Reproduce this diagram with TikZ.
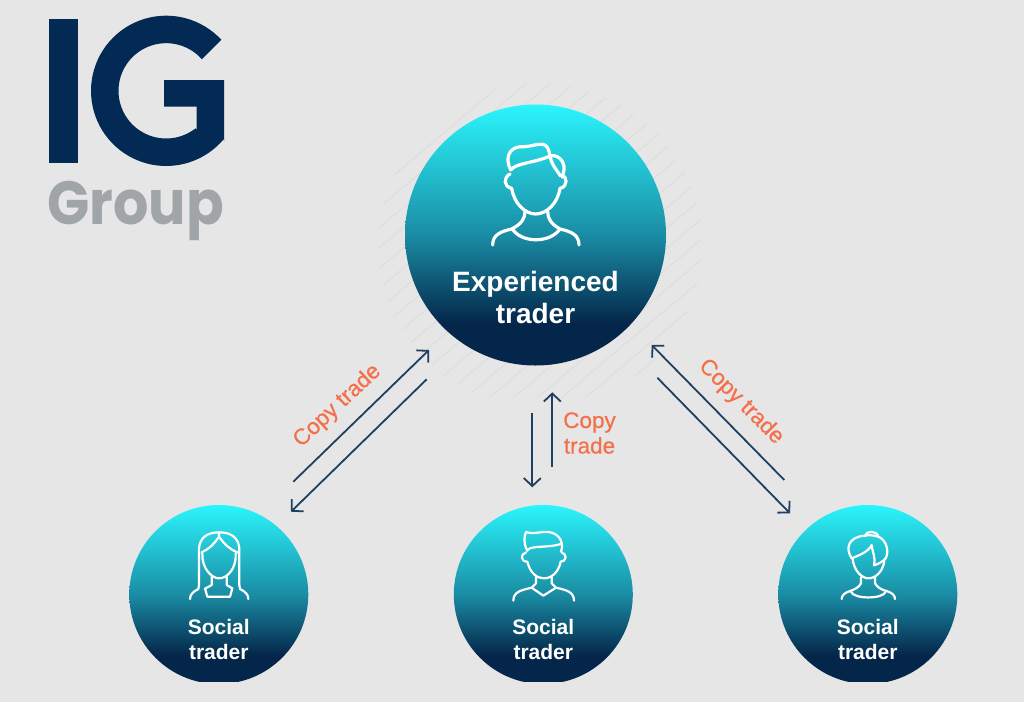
\documentclass[tikz,border=0pt]{standalone}
\usepackage{fontspec}
\setmainfont{Liberation Sans}
\newfontfamily\grpfont{Poppins}
\usetikzlibrary{arrows.meta}
\definecolor{bgc}{HTML}{E6E6E6}
\definecolor{hatchc}{HTML}{DCDCDC}
\definecolor{navy}{HTML}{022A55}
\definecolor{greyc}{HTML}{A0A5A8}
\definecolor{arrowc}{HTML}{1F3F63}
\definecolor{orangec}{HTML}{F4704A}
\definecolor{gt}{HTML}{2BF5FC}
\definecolor{gm}{HTML}{1A8CA4}
\definecolor{gb}{HTML}{04264A}
\pgfdeclareverticalshading{trader}{100bp}{color(0bp)=(gb); color(33bp)=(gb); color(50bp)=(gm); color(75bp)=(gt); color(100bp)=(gt)}
\tikzset{
  bigc/.style={circle,inner sep=0,outer sep=0,minimum size=261pt,shading=trader},
  smallc/.style={circle,inner sep=0,outer sep=0,minimum size=179pt,shading=trader},
  biglab/.style={text=white,font=\fontsize{28}{32}\selectfont\bfseries,align=center,inner sep=0},
  smalllab/.style={text=white,font=\fontsize{21}{25}\selectfont\bfseries,align=center,inner sep=0},
  copylab/.style={text=orangec,font=\fontsize{22.5}{25.5}\selectfont\addfontfeature{FakeBold=0.6},align=center,inner sep=0},
  conn/.style={draw=arrowc,line width=1.8pt,-{Straight Barb[length=8pt,width=17pt,line width=1.8pt]}},
  iconbig/.style={draw=white,line width=3.2pt,line cap=round,line join=round},
  iconsmall/.style={draw=white,line width=2.2pt,line cap=round,line join=round},
  hatch/.style={draw=hatchc,line width=0.8pt}
}
\begin{document}
\begin{tikzpicture}[x=1pt,y=-1pt]
\fill[bgc] (0,0) rectangle (1024,702);
\useasboundingbox (0,0) rectangle (1024,702);
% hatching behind the big circle
\begin{scope}
\clip (540,245) circle (162);
\foreach \k in {-12,...,12}{
  \draw[hatch] ({535+\k*24-190},{238+160}) -- ({535+\k*24+190},{238-160});
}
\end{scope}
% logo
\fill[navy] (49.3,19.3) rectangle (77.7,162.7);
\begin{scope}[shift={(30,0)},x=0.33333pt,y=-0.33333pt]
\fill[navy] plot[domain=-42.8:-320.3,samples=70] ({408.5+225.5*cos(\x)},{272.5+225.5*sin(\x)})
  -- (582,425) -- (582,240) -- (402,240) -- (402,320) -- (500,320) -- (500,390)
  -- plot[domain=-308:-41.6,samples=70] ({408.5+143*cos(\x)},{272.5+143*sin(\x)}) -- cycle;
\end{scope}
\node[anchor=base west,inner sep=0,text=greyc,xscale=0.91] (grouplogo) at (47,224)
  {\grpfont\fontsize{61}{61}\selectfont\bfseries Group};
% circles
\node[bigc] (big) at (535.5,235) {};
\begin{scope}
\clip (100,480) rectangle (1000,681);
\node[smallc] (s1) at (218.8,594.5) {};
\node[smallc] (s2) at (543.3,594.5) {};
\node[smallc] (s3) at (867.8,594.5) {};
\end{scope}
\node[biglab] (bigt) at (535.5,297.5) {Experienced\\trader};
\node[smalllab] (s1t) at (218.8,639) {Social\\trader};
\node[smalllab] (s2t) at (543.3,639) {Social\\trader};
\node[smalllab] (s3t) at (867.8,639) {Social\\trader};
% big man icon
\begin{scope}[shift={(380,90)},x=0.33333pt,y=-0.33333pt]
\draw[iconbig] (392,240) .. controls (375,205) and (385,175) .. (420,170) .. controls (450,172) and (470,160) .. (490,163) .. controls (503,167) and (507,180) .. (510,198) .. controls (530,192) and (555,210) .. (552,240) -- (547,262);
\draw[iconbig] (392,240) .. controls (410,218) and (460,220) .. (510,198) .. controls (515,225) and (530,240) .. (542,258);
\draw[iconbig] (390,252) .. controls (370,262) and (370,290) .. (395,295) .. controls (402,340) and (435,372) .. (467,372) .. controls (500,372) and (533,340) .. (540,295) .. controls (565,290) and (562,258) .. (545,255);
\draw[iconbig] (435,365) .. controls (435,385) and (425,402) .. (395,417) .. controls (360,425) and (338,435) .. (338,465);
\draw[iconbig] (503,365) .. controls (503,385) and (513,402) .. (540,417) .. controls (575,425) and (597,435) .. (597,465);
\draw[iconbig] (397,417) .. controls (425,460) and (510,460) .. (540,417);
\end{scope}
% woman icon
\begin{scope}[shift={(120,490)},x=0.33333pt,y=-0.33333pt]
\draw[iconsmall] (237,285) -- (237,175) .. controls (240,140) and (265,127) .. (297,127) .. controls (330,127) and (355,140) .. (358,175) -- (358,285);
\draw[iconsmall] (297,127) -- (297,140) .. controls (280,165) and (265,178) .. (245,187);
\draw[iconsmall] (297,140) .. controls (315,165) and (330,178) .. (352,187);
\draw[iconsmall] (247,190) .. controls (245,235) and (275,265) .. (297,265) .. controls (322,265) and (350,235) .. (347,190);
\draw[iconsmall] (275,260) -- (275,285) -- (257,295);
\draw[iconsmall] (320,260) -- (320,285) -- (337,295);
\draw[iconsmall] (237,285) -- (235,297) .. controls (218,305) and (210,315) .. (210,327);
\draw[iconsmall] (358,285) -- (360,297) .. controls (377,305) and (385,315) .. (385,327);
\draw[iconsmall] (255,295) -- (262,320) -- (330,320) -- (337,295);
\end{scope}
% middle man icon
\begin{scope}[shift={(450,490)},x=0.33333pt,y=-0.33333pt]
\draw[iconsmall] (232,182) .. controls (220,160) and (222,140) .. (228,126) .. controls (255,135) and (280,120) .. (305,128) .. controls (330,135) and (342,160) .. (333,185);
\draw[iconsmall] (232,182) .. controls (238,165) and (290,175) .. (333,162);
\draw[iconsmall] (228,187) .. controls (210,192) and (212,215) .. (232,215) .. controls (240,250) and (262,265) .. (282,265) .. controls (302,265) and (325,250) .. (332,215) .. controls (350,215) and (352,192) .. (335,187);
\draw[iconsmall] (258,262) -- (258,280) -- (245,293) .. controls (215,300) and (190,305) .. (190,332);
\draw[iconsmall] (305,262) -- (305,280) -- (318,293) .. controls (348,300) and (372,305) .. (372,332);
\draw[iconsmall] (245,293) -- (280,317) -- (318,293);
\end{scope}
% bun woman icon
\begin{scope}[shift={(770,490)},x=0.33333pt,y=-0.33333pt]
\draw[iconsmall] (245,205) .. controls (225,175) and (235,140) .. (285,137) .. controls (288,122) and (320,120) .. (325,140) .. controls (350,150) and (358,185) .. (347,205);
\draw[iconsmall] (285,137) .. controls (295,135) and (310,135) .. (325,140);
\draw[iconsmall] (245,205) .. controls (270,195) and (295,185) .. (305,165) .. controls (308,190) and (318,205) .. (312,226) .. controls (325,222) and (338,215) .. (347,205);
\draw[iconsmall] (248,205) .. controls (250,240) and (275,265) .. (295,265) .. controls (320,265) and (340,240) .. (343,212);
\draw[iconsmall] (273,262) -- (273,280) .. controls (268,292) and (250,300) .. (240,303) .. controls (225,308) and (215,315) .. (215,327);
\draw[iconsmall] (315,262) -- (315,280) .. controls (322,292) and (335,300) .. (350,303) .. controls (365,308) and (375,315) .. (375,327);
\draw[iconsmall] (243,305) .. controls (250,328) and (340,328) .. (347,305);
\end{scope}
% connector end points
\coordinate (l1a) at (293.3,481.7); \coordinate (l1b) at (429,350);
\coordinate (l2a) at (426.7,379.3); \coordinate (l2b) at (291,511.7);
\coordinate (m1a) at (552.3,466.7); \coordinate (m1b) at (552.3,392.3);
\coordinate (m2a) at (532.3,412.7); \coordinate (m2b) at (532.3,487.3);
\coordinate (r1a) at (784.3,480);   \coordinate (r1b) at (651.7,345);
\coordinate (r2a) at (657.3,377.7); \coordinate (r2b) at (790,513.3);
\draw[conn] (l1a) -- (l1b);
\draw[conn] (l2a) -- (l2b);
\draw[conn] (m1a) -- (m1b);
\draw[conn] (m2a) -- (m2b);
\draw[conn] (r1a) -- (r1b);
\draw[conn] (r2a) -- (r2b);
% labels
\node[copylab,rotate=43] (cl) at (337.5,406) {Copy trade};
\node[copylab] (cm) at (589.5,433) {Copy\\trade};
\node[copylab,rotate=-45] (cr) at (741,402) {Copy trade};
\end{tikzpicture}
\end{document}
